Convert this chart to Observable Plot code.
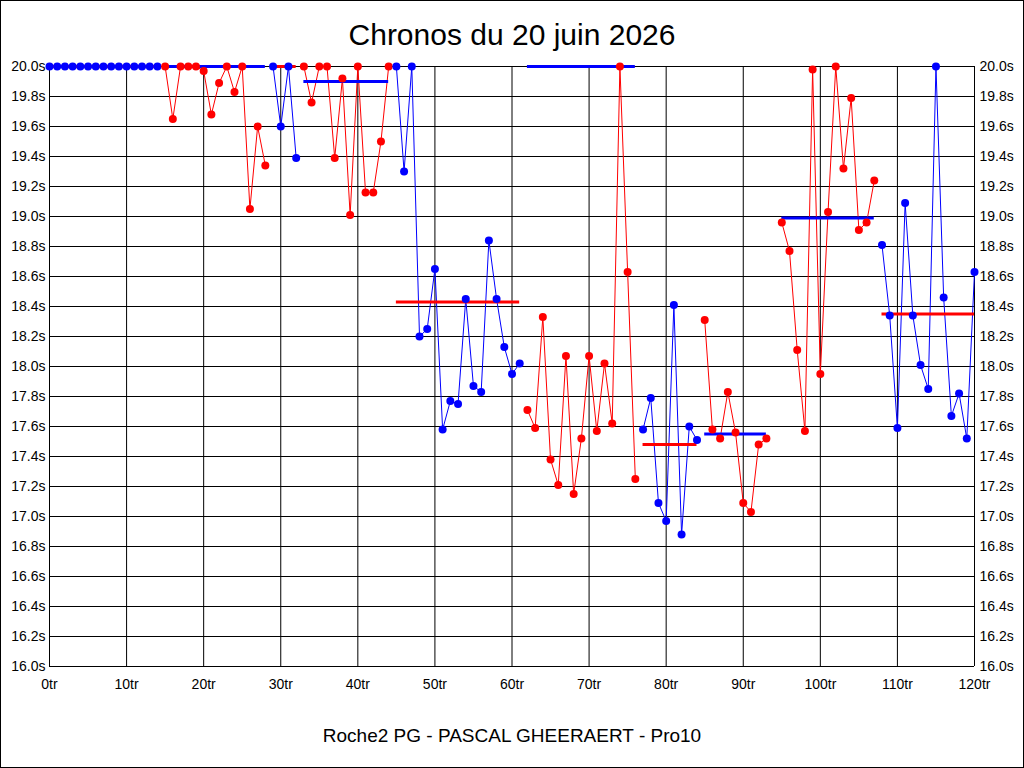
<!DOCTYPE html>
<html><head><meta charset="utf-8">
<script src="https://cdn.jsdelivr.net/npm/d3@7"></script>
<script src="https://cdn.jsdelivr.net/npm/@observablehq/plot@0.6"></script>
<style>
html,body{margin:0;padding:0;background:#fff;}
#wrap{position:relative;width:1024px;height:768px;overflow:hidden;font-family:"Liberation Sans",Arial,sans-serif;background:#fff;}
#title{height:50px;box-sizing:border-box;padding-top:20px;line-height:30px;font-size:30px;text-align:center;color:#000;white-space:nowrap;}
#chart{height:668px;}
#caption{height:50px;box-sizing:border-box;padding-top:8px;line-height:19px;font-size:19px;text-align:center;color:#000;white-space:nowrap;}
#border{position:absolute;left:0;top:0;width:1024px;height:768px;box-sizing:border-box;border:1px solid #000;pointer-events:none;}
</style></head><body>
<div id="wrap">
  <div id="title">Chronos du 20 juin 2026</div>
  <div id="chart"></div>
  <div id="caption">Roche2 PG - PASCAL GHEERAERT - Pro10</div>
  <div id="border"></div>
</div>
<script>
// Lap times in seconds (values above 20s are shown at 20.0s); null = no lap recorded
const lapTimes = [
  // 0-14
  20.0,20.0,20.0,20.0,20.0,20.0,20.0,20.0,20.0,20.0,20.0,20.0,20.0,20.0,20.0,
  // 15-28
  20.0,19.65,20.0,20.0,20.0,19.97,19.68,19.89,20.0,19.83,20.0,19.05,19.60,19.34,
  // 29-32
  20.0,19.60,20.0,19.39,
  // 33-44
  20.0,19.76,20.0,20.0,19.39,19.92,19.01,20.0,19.16,19.16,19.50,20.0,
  // 45-61
  20.0,19.30,20.0,18.20,18.25,18.65,17.58,17.77,17.75,18.45,17.87,17.83,18.84,18.45,18.13,17.95,18.02,
  // 62-76
  17.71,17.59,18.33,17.38,17.21,18.07,17.15,17.52,18.07,17.57,18.02,17.62,20.0,18.63,17.25,
  // 77-84
  17.58,17.79,17.09,16.97,18.41,16.88,17.60,17.51,
  // 85-93
  18.31,17.58,17.52,17.83,17.56,17.09,17.03,17.48,17.52,
  // 94
  null,
  // 95-107
  18.96,18.77,18.11,17.57,19.98,17.95,19.03,20.0,19.32,19.79,18.91,18.96,19.24,
  // 108-120
  18.81,18.34,17.59,19.09,18.34,18.01,17.85,20.0,18.46,17.67,17.82,17.52,18.63
];
const stintStarts = [0, 15, 29, 33, 45, 62, 77, 85, 95, 108];
const stintEnds   = [14, 28, 32, 44, 61, 76, 84, 93, 107, 120];
const pointColors = ["#0000ff","#ff0000","#0000ff","#ff0000","#0000ff","#ff0000","#0000ff","#ff0000","#ff0000","#0000ff"];
const avgColors   = ["#ff0000","#0000ff","#ff0000","#0000ff","#ff0000","#0000ff","#ff0000","#0000ff","#0000ff","#ff0000"];
const avgTimes    = [20.0, 20.0, 20.0, 19.9, 18.43, 20.0, 17.48, 17.55, 18.99, 18.35];
const xTicks = [0,10,20,30,40,50,60,70,80,90,100,110,120];
const yTicks = d3.range(21).map(i => +(16 + i * 0.2).toFixed(1));

const rows = [];
stintStarts.forEach((s, k) => {
  for (let lap = s; lap <= stintEnds[k]; lap++) {
    if (lapTimes[lap] != null) rows.push({lap, time: lapTimes[lap], stint: k, color: pointColors[k]});
  }
});
const avgRows = stintStarts.map((s, k) => ({x1: s, x2: stintEnds[k], time: avgTimes[k], color: avgColors[k]}));

const fmtY = d => d.toFixed(1) + "s";
const fmtX = d => d + "tr";

const chart = Plot.plot({
  width: 1024, height: 668,
  marginTop: 16, marginBottom: 52, marginLeft: 49, marginRight: 50,
  style: {fontFamily: "'Liberation Sans', Arial, sans-serif", fontSize: "14px", color: "#000", background: "transparent", overflow: "visible"},
  x: {domain: [0, 120]},
  y: {domain: [16, 20]},
  color: {type: "identity"},
  marks: [
    Plot.gridX(xTicks, {stroke: "#000", strokeOpacity: 1, strokeWidth: 1}),
    Plot.gridY(yTicks, {stroke: "#000", strokeOpacity: 1, strokeWidth: 1}),
    Plot.axisX(xTicks, {tickSize: 0, tickPadding: 13, tickFormat: fmtX, label: null}),
    Plot.axisY(yTicks, {anchor: "left", tickSize: 0, tickPadding: 4, tickFormat: fmtY, label: null}),
    Plot.axisY(yTicks, {anchor: "right", tickSize: 0, tickPadding: 5, tickFormat: fmtY, label: null}),
    Plot.line(rows, {x: "lap", y: "time", z: "stint", stroke: "color", strokeWidth: 1}),
    Plot.ruleY(avgRows, {y: "time", x1: "x1", x2: "x2", stroke: "color", strokeWidth: 3}),
    Plot.dot(rows, {x: "lap", y: "time", fill: "color", r: 4, stroke: null})
  ]
});
document.getElementById("chart").appendChild(chart);
</script>
</body></html>
